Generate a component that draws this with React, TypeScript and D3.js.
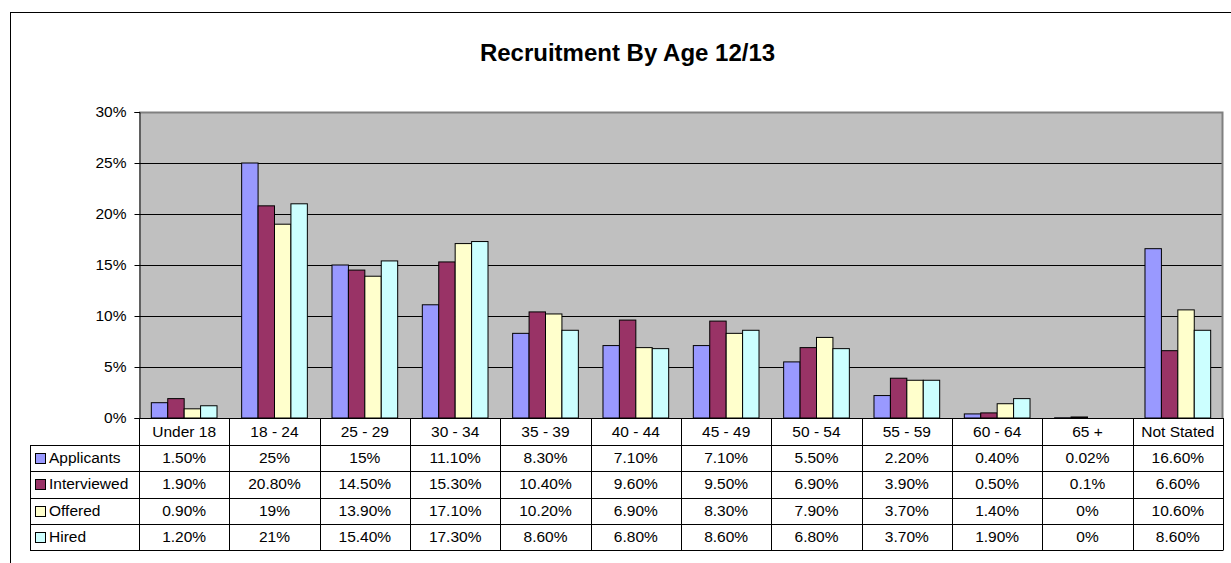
import * as d3 from "d3";
import { useEffect, useRef } from "react";

const categories = [
  "Under 18", "18 - 24", "25 - 29", "30 - 34", "35 - 39", "40 - 44",
  "45 - 49", "50 - 54", "55 - 59", "60 - 64", "65 +", "Not Stated",
];

const applicants = [1.5, 25, 15, 11.1, 8.3, 7.1, 7.1, 5.5, 2.2, 0.4, 0.02, 16.6];
const interviewed = [1.9, 20.8, 14.5, 15.3, 10.4, 9.6, 9.5, 6.9, 3.9, 0.5, 0.1, 6.6];
const offered = [0.9, 19, 13.9, 17.1, 10.2, 6.9, 8.3, 7.9, 3.7, 1.4, 0, 10.6];
const hired = [1.2, 21, 15.4, 17.3, 8.6, 6.8, 8.6, 6.8, 3.7, 1.9, 0, 8.6];

// table text as shown in the source sheet (formatting is not uniform)
const applicantsLabels = ["1.50%", "25%", "15%", "11.10%", "8.30%", "7.10%", "7.10%", "5.50%", "2.20%", "0.40%", "0.02%", "16.60%"];
const interviewedLabels = ["1.90%", "20.80%", "14.50%", "15.30%", "10.40%", "9.60%", "9.50%", "6.90%", "3.90%", "0.50%", "0.1%", "6.60%"];
const offeredLabels = ["0.90%", "19%", "13.90%", "17.10%", "10.20%", "6.90%", "8.30%", "7.90%", "3.70%", "1.40%", "0%", "10.60%"];
const hiredLabels = ["1.20%", "21%", "15.40%", "17.30%", "8.60%", "6.80%", "8.60%", "6.80%", "3.70%", "1.90%", "0%", "8.60%"];

const yTicks = [0, 5, 10, 15, 20, 25, 30];

const series = [
  { name: "Applicants", values: applicants, labels: applicantsLabels, color: "#9999FF" },
  { name: "Interviewed", values: interviewed, labels: interviewedLabels, color: "#993366" },
  { name: "Offered", values: offered, labels: offeredLabels, color: "#FFFFCC" },
  { name: "Hired", values: hired, labels: hiredLabels, color: "#CCFFFF" },
];

const W = 1231;
const H = 563;
const FONT = "'Liberation Sans', Arial, sans-serif";

export default function App() {
  const svgRef = useRef<SVGSVGElement | null>(null);

  useEffect(() => {
    if (!svgRef.current) return;
    const svg = d3.select(svgRef.current);
    svg.selectAll("*").remove();

    const plot = { left: 139, right: 1223, top: 112, bottom: 418 };
    const tableLeft = 30;
    const rowH = 26.25;
    const headerBottom = 445;

    // outer chart frame (runs past the right / bottom of the window)
    svg
      .append("rect")
      .attr("x", 10.5)
      .attr("y", 12.5)
      .attr("width", 1235)
      .attr("height", 570)
      .attr("fill", "#fff")
      .attr("stroke", "#000")
      .attr("stroke-width", 1);

    svg
      .append("text")
      .attr("x", 627.5)
      .attr("y", 61)
      .attr("text-anchor", "middle")
      .attr("font-family", FONT)
      .attr("font-weight", "bold")
      .attr("font-size", 24)
      .text("Recruitment By Age 12/13");

    const x = d3
      .scaleBand<string>()
      .domain(categories)
      .range([plot.left, plot.right])
      .padding(0);

    const slot = x.bandwidth();
    const gap = (slot * 0.75) / 5.5;
    const xs = d3
      .scaleBand<string>()
      .domain(series.map((s) => s.name))
      .range([gap, slot - gap])
      .padding(0);

    const y = d3.scaleLinear().domain([0, 30]).range([plot.bottom, plot.top]);

    // plot background
    svg
      .append("rect")
      .attr("x", plot.left)
      .attr("y", plot.top)
      .attr("width", plot.right - plot.left)
      .attr("height", plot.bottom - plot.top)
      .attr("fill", "#C0C0C0");

    // gridlines
    svg
      .append("g")
      .selectAll("line")
      .data(yTicks.filter((t) => t > 0 && t < 30))
      .join("line")
      .attr("x1", plot.left)
      .attr("x2", plot.right)
      .attr("y1", (d) => Math.round(y(d)) + 0.5)
      .attr("y2", (d) => Math.round(y(d)) + 0.5)
      .attr("stroke", "#000")
      .attr("stroke-width", 1);

    // plot border (top / right, gray)
    svg
      .append("path")
      .attr("d", `M${plot.left},${plot.top + 0.5}H${plot.right - 0.5}V${plot.bottom}`)
      .attr("fill", "none")
      .attr("stroke", "#808080")
      .attr("stroke-width", 2);

    // bars
    series.forEach((s) => {
      svg
        .append("g")
        .selectAll("rect")
        .data(s.values)
        .join("rect")
        .attr("x", (_, i) => (x(categories[i]) as number) + (xs(s.name) as number))
        .attr("y", (d) => y(d))
        .attr("width", xs.bandwidth())
        .attr("height", (d) => y(0) - y(d))
        .attr("fill", s.color)
        .attr("stroke", "#000")
        .attr("stroke-width", 1);
    });

    // y axis
    const yAxis = svg
      .append("g")
      .attr("transform", `translate(${plot.left + 0.5},0)`)
      .call(
        d3
          .axisLeft(y)
          .tickValues(yTicks)
          .tickSize(5)
          .tickPadding(8)
          .tickFormat((d) => `${d}%`)
      );
    yAxis.select(".domain").attr("stroke", "#000");
    yAxis
      .selectAll("text")
      .attr("font-family", FONT)
      .attr("font-size", 15.5)
      .attr("fill", "#000");

    // x axis baseline
    svg
      .append("line")
      .attr("x1", plot.left)
      .attr("x2", plot.right)
      .attr("y1", plot.bottom + 0.5)
      .attr("y2", plot.bottom + 0.5)
      .attr("stroke", "#000");

    // data table
    const table = svg.append("g");
    const tableBottom = headerBottom + rowH * series.length;

    // horizontal lines of the rows
    d3.range(series.length + 1).forEach((i) => {
      const yy = Math.round(headerBottom + i * rowH) + 0.5;
      table
        .append("line")
        .attr("x1", tableLeft)
        .attr("x2", plot.right)
        .attr("y1", yy)
        .attr("y2", yy)
        .attr("stroke", "#000");
    });

    // vertical lines
    const bounds = categories.map((c) => x(c) as number).concat([plot.right]);
    bounds.forEach((bx) => {
      table
        .append("line")
        .attr("x1", Math.round(bx) + 0.5)
        .attr("x2", Math.round(bx) + 0.5)
        .attr("y1", plot.bottom)
        .attr("y2", Math.round(tableBottom) + 0.5)
        .attr("stroke", "#000");
    });
    table
      .append("line")
      .attr("x1", tableLeft + 0.5)
      .attr("x2", tableLeft + 0.5)
      .attr("y1", headerBottom)
      .attr("y2", Math.round(tableBottom) + 0.5)
      .attr("stroke", "#000");

    // header labels
    table
      .selectAll("text.head")
      .data(categories)
      .join("text")
      .attr("class", "head")
      .attr("x", (d) => (x(d) as number) + slot / 2)
      .attr("y", (plot.bottom + headerBottom) / 2 + 1)
      .attr("text-anchor", "middle")
      .attr("dominant-baseline", "middle")
      .attr("font-family", FONT)
      .attr("font-size", 15.5)
      .text((d) => d);

    series.forEach((s, r) => {
      const cy = headerBottom + rowH * r + rowH / 2 + 1;
      table
        .append("rect")
        .attr("x", 35.5)
        .attr("y", Math.round(cy - 5) - 0.5)
        .attr("width", 10)
        .attr("height", 10)
        .attr("fill", s.color)
        .attr("stroke", "#000")
        .attr("stroke-width", 1);
      table
        .append("text")
        .attr("x", 49)
        .attr("y", cy)
        .attr("dominant-baseline", "middle")
        .attr("font-family", FONT)
        .attr("font-size", 15.5)
        .text(s.name);
      table
        .append("g")
        .selectAll("text")
        .data(s.labels)
        .join("text")
        .attr("x", (_, i) => (x(categories[i]) as number) + slot / 2)
        .attr("y", cy)
        .attr("text-anchor", "middle")
        .attr("dominant-baseline", "middle")
        .attr("font-family", FONT)
        .attr("font-size", 15.5)
        .text((d) => d);
    });
  }, []);

  return (
    <svg
      ref={svgRef}
      width={W}
      height={H}
      style={{ position: "absolute", left: 0, top: 0, background: "#fff" }}
    />
  );
}
